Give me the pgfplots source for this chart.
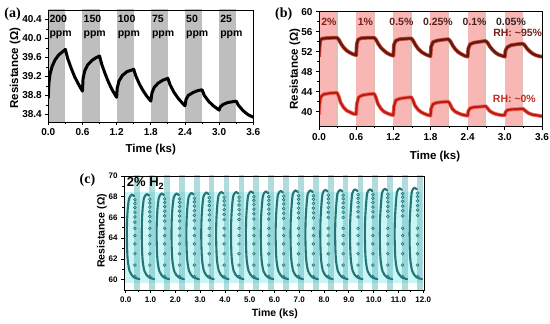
\documentclass[border=0pt]{standalone}
\usepackage{pgfplots}
\pgfplotsset{compat=1.18}
\usepackage{fontspec}
\setmainfont{Liberation Sans}
\newfontfamily\serifbf{Liberation Serif}
\definecolor{bandgray}{RGB}{190,190,190}
\definecolor{bandpink}{RGB}{248,182,180}
\definecolor{bandtan}{RGB}{222,192,182}
\definecolor{upcore}{RGB}{100,25,15}
\definecolor{uphalo}{RGB}{200,70,55}
\definecolor{lowcore}{RGB}{190,28,18}
\definecolor{lowhalo}{RGB}{245,110,100}
\definecolor{cyanbg}{RGB}{202,246,246}
\definecolor{tealband}{RGB}{100,185,190}
\definecolor{tealdark}{RGB}{38,115,120}
\definecolor{teallight}{RGB}{140,215,215}
\definecolor{rhup}{RGB}{115,35,25}
\definecolor{rhlow}{RGB}{195,45,35}
\newcommand\tickfont{\fontsize{10}{12}\selectfont\bfseries}
\newcommand\labfont{\fontsize{11.5}{13}\selectfont\bfseries}
\pgfplotsset{
  panel/.style={
    scale only axis, axis on top, tick align=outside, tick pos=left,
    anchor=south west, scaled ticks=false,
    axis line style={line width=0.9pt},
    every tick/.style={black, line width=0.8pt},
    major tick length=3pt, minor tick length=1.8pt,
    minor x tick num=1, minor y tick num=1,
    /pgf/number format/assume math mode=true,
    ticklabel style={font=\tickfont},
    label style={font=\labfont},
    xlabel={Time (ks)}, ylabel={Resistance (Ω)},
  },
  dense/.style={tealdark, line width=2.1pt, smooth, mark=none, line cap=round},
}
\begin{document}
\begin{tikzpicture}
\path[use as bounding box] (0,0) rectangle (550pt,324pt);
% ---------------- (a)
\begin{axis}[panel, at={(48.3pt,202pt)}, width=205pt, height=112pt,
  xmin=0, xmax=3.6, ymin=38.24, ymax=40.6,
  xtick={0,0.6,1.2,1.8,2.4,3.0,3.6}, ytick={38.4,38.8,39.2,39.6,40.0,40.4},
  xticklabel style={/pgf/number format/.cd, fixed, fixed zerofill, precision=1},
  yticklabel style={/pgf/number format/.cd, fixed, fixed zerofill, precision=1},
  xlabel style={at={(axis description cs:0.5,-0.25)}, anchor=center},
  ylabel style={at={(axis description cs:-0.162,0.48)}, anchor=center}]
\addplot[fill=bandgray, draw=none] coordinates {(0,38) (0.3,38) (0.3,41) (0,41)} -- cycle;
\addplot[fill=bandgray, draw=none] coordinates {(0.6,38) (0.9,38) (0.9,41) (0.6,41)} -- cycle;
\addplot[fill=bandgray, draw=none] coordinates {(1.2,38) (1.5,38) (1.5,41) (1.2,41)} -- cycle;
\addplot[fill=bandgray, draw=none] coordinates {(1.8,38) (2.1,38) (2.1,41) (1.8,41)} -- cycle;
\addplot[fill=bandgray, draw=none] coordinates {(2.4,38) (2.7,38) (2.7,41) (2.4,41)} -- cycle;
\addplot[fill=bandgray, draw=none] coordinates {(3.0,38) (3.3,38) (3.3,41) (3.0,41)} -- cycle;
\addplot[black, line width=3pt, mark=none, line join=round] coordinates {
(0.00,38.74)(0.01,39.05)(0.03,39.25)(0.07,39.42)(0.12,39.55)(0.18,39.65)(0.24,39.71)(0.30,39.77)
(0.34,39.58)(0.40,39.38)(0.46,39.20)(0.52,39.06)(0.58,38.93)(0.60,38.89)
(0.61,39.15)(0.64,39.32)(0.69,39.44)(0.76,39.53)(0.83,39.59)(0.90,39.63)
(0.94,39.45)(1.00,39.25)(1.06,39.07)(1.12,38.92)(1.20,38.76)
(1.21,38.95)(1.24,39.10)(1.30,39.22)(1.38,39.30)(1.50,39.35)
(1.54,39.20)(1.60,39.04)(1.66,38.91)(1.72,38.80)(1.80,38.68)
(1.82,38.85)(1.86,38.97)(1.93,39.06)(2.01,39.12)(2.10,39.16)
(2.14,39.02)(2.20,38.88)(2.28,38.74)(2.36,38.63)(2.40,38.58)
(2.42,38.72)(2.46,38.80)(2.54,38.86)(2.62,38.90)(2.70,38.92)
(2.74,38.80)(2.82,38.67)(2.90,38.58)(3.00,38.49)
(3.02,38.56)(3.07,38.61)(3.15,38.65)(3.30,38.68)
(3.34,38.59)(3.42,38.48)(3.50,38.40)(3.60,38.34)};
\begin{scope}[every node/.style={anchor=west, align=left, inner sep=1pt, font=\fontsize{10.5}{14}\selectfont\bfseries}]
\node at (axis cs:0.0,40.25) {200\\ppm};
\node at (axis cs:0.6,40.25) {150\\ppm};
\node at (axis cs:1.2,40.25) {100\\ppm};
\node at (axis cs:1.8,40.25) {75\\ppm};
\node at (axis cs:2.4,40.25) {50\\ppm};
\node at (axis cs:3.0,40.25) {25\\ppm};
\end{scope}
\end{axis}
% ---------------- (b)
\begin{axis}[panel, at={(319pt,197.3pt)}, width=223pt, height=115pt,
  xmin=0, xmax=3.6, ymin=37, ymax=60,
  xtick={0,0.6,1.2,1.8,2.4,3.0,3.6}, ytick={40,44,48,52,56,60},
  xticklabel style={/pgf/number format/.cd, fixed, fixed zerofill, precision=1},
  xlabel style={at={(axis description cs:0.52,-0.26)}, anchor=center},
  ylabel style={at={(axis description cs:-0.108,0.5)}, anchor=center}]
\addplot[fill=bandpink, draw=none] coordinates {(0,36) (0.27,36) (0.27,61) (0,61)} -- cycle;
\addplot[fill=bandpink, draw=none] coordinates {(0.6,36) (0.87,36) (0.87,61) (0.6,61)} -- cycle;
\addplot[fill=bandpink, draw=none] coordinates {(1.2,36) (1.47,36) (1.47,61) (1.2,61)} -- cycle;
\addplot[fill=bandpink, draw=none] coordinates {(1.8,36) (2.07,36) (2.07,61) (1.8,61)} -- cycle;
\addplot[fill=bandpink, draw=none] coordinates {(2.4,36) (2.67,36) (2.67,61) (2.4,61)} -- cycle;
\addplot[fill=bandpink, draw=none] coordinates {(3.0,36) (3.27,36) (3.27,61) (3.0,61)} -- cycle;
\addplot[fill=bandtan, draw=none] coordinates {(0.27,36) (0.3,36) (0.3,61) (0.27,61)} -- cycle;
\addplot[fill=bandtan, draw=none] coordinates {(0.87,36) (0.9,36) (0.9,61) (0.87,61)} -- cycle;
\addplot[fill=bandtan, draw=none] coordinates {(1.47,36) (1.5,36) (1.5,61) (1.47,61)} -- cycle;
\addplot[fill=bandtan, draw=none] coordinates {(2.07,36) (2.1,36) (2.1,61) (2.07,61)} -- cycle;
\addplot[fill=bandtan, draw=none] coordinates {(2.67,36) (2.7,36) (2.7,61) (2.67,61)} -- cycle;
\addplot[fill=bandtan, draw=none] coordinates {(3.27,36) (3.3,36) (3.3,61) (3.27,61)} -- cycle;
\addplot[uphalo, line width=3.8pt, mark=none, line join=round] coordinates {
(0.00,51.0)(0.01,53.0)(0.02,54.3)(0.05,54.6)(0.15,54.75)(0.29,54.8)
(0.32,54.4)(0.36,53.5)(0.40,52.8)(0.45,52.2)(0.50,51.8)(0.55,51.5)(0.60,51.3)
(0.61,53.5)(0.63,54.4)(0.68,54.7)(0.80,54.8)(0.89,54.8)
(0.92,54.4)(0.96,53.5)(1.00,52.8)(1.05,52.2)(1.10,51.7)(1.15,51.4)(1.20,51.2)
(1.21,53.4)(1.24,54.2)(1.30,54.5)(1.40,54.6)(1.49,54.65)
(1.52,54.2)(1.56,53.3)(1.60,52.6)(1.65,52.0)(1.70,51.6)(1.75,51.3)(1.80,51.1)
(1.81,53.0)(1.84,53.9)(1.90,54.2)(2.00,54.4)(2.09,54.5)
(2.12,54.1)(2.16,53.2)(2.20,52.5)(2.25,51.9)(2.30,51.5)(2.35,51.2)(2.40,51.0)
(2.41,52.6)(2.44,53.5)(2.50,53.8)(2.60,54.0)(2.69,54.15)
(2.72,53.8)(2.76,53.0)(2.80,52.4)(2.85,51.8)(2.90,51.4)(2.95,51.2)(3.00,51.0)
(3.01,52.2)(3.04,52.9)(3.10,53.3)(3.20,53.5)(3.29,53.6)
(3.32,53.3)(3.36,52.6)(3.40,52.1)(3.45,51.6)(3.50,51.3)(3.55,51.1)(3.60,51.0)};
\addplot[upcore, line width=2.2pt, mark=none, line join=round] coordinates {
(0.00,51.0)(0.01,53.0)(0.02,54.3)(0.05,54.6)(0.15,54.75)(0.29,54.8)
(0.32,54.4)(0.36,53.5)(0.40,52.8)(0.45,52.2)(0.50,51.8)(0.55,51.5)(0.60,51.3)
(0.61,53.5)(0.63,54.4)(0.68,54.7)(0.80,54.8)(0.89,54.8)
(0.92,54.4)(0.96,53.5)(1.00,52.8)(1.05,52.2)(1.10,51.7)(1.15,51.4)(1.20,51.2)
(1.21,53.4)(1.24,54.2)(1.30,54.5)(1.40,54.6)(1.49,54.65)
(1.52,54.2)(1.56,53.3)(1.60,52.6)(1.65,52.0)(1.70,51.6)(1.75,51.3)(1.80,51.1)
(1.81,53.0)(1.84,53.9)(1.90,54.2)(2.00,54.4)(2.09,54.5)
(2.12,54.1)(2.16,53.2)(2.20,52.5)(2.25,51.9)(2.30,51.5)(2.35,51.2)(2.40,51.0)
(2.41,52.6)(2.44,53.5)(2.50,53.8)(2.60,54.0)(2.69,54.15)
(2.72,53.8)(2.76,53.0)(2.80,52.4)(2.85,51.8)(2.90,51.4)(2.95,51.2)(3.00,51.0)
(3.01,52.2)(3.04,52.9)(3.10,53.3)(3.20,53.5)(3.29,53.6)
(3.32,53.3)(3.36,52.6)(3.40,52.1)(3.45,51.6)(3.50,51.3)(3.55,51.1)(3.60,51.0)};
\addplot[lowhalo, line width=3.8pt, mark=none, line join=round] coordinates {
(0.00,39.4)(0.01,41.5)(0.03,43.0)(0.08,43.5)(0.18,43.7)(0.29,43.8)
(0.32,43.0)(0.35,41.8)(0.40,40.8)(0.45,40.2)(0.50,39.9)(0.55,39.6)(0.60,39.5)
(0.61,41.5)(0.64,42.9)(0.70,43.3)(0.80,43.5)(0.89,43.6)
(0.92,42.8)(0.95,41.6)(1.00,40.6)(1.05,40.0)(1.10,39.7)(1.15,39.45)(1.20,39.3)
(1.21,41.0)(1.24,42.3)(1.30,42.6)(1.40,42.8)(1.49,42.9)
(1.52,42.2)(1.55,41.2)(1.60,40.4)(1.65,39.9)(1.70,39.6)(1.75,39.35)(1.80,39.2)
(1.81,40.6)(1.84,41.5)(1.90,41.8)(2.00,41.95)(2.09,42.0)
(2.12,41.4)(2.15,40.6)(2.20,40.0)(2.25,39.7)(2.30,39.45)(2.35,39.3)(2.40,39.2)
(2.41,40.1)(2.44,40.7)(2.50,40.9)(2.60,41.0)(2.69,41.1)
(2.72,40.7)(2.75,40.2)(2.80,39.8)(2.85,39.55)(2.90,39.4)(2.95,39.3)(3.00,39.3)
(3.01,39.9)(3.04,40.3)(3.10,40.45)(3.20,40.5)(3.29,40.6)
(3.32,40.3)(3.36,39.9)(3.40,39.6)(3.45,39.4)(3.50,39.3)(3.55,39.2)(3.60,39.1)};
\addplot[lowcore, line width=2.2pt, mark=none, line join=round] coordinates {
(0.00,39.4)(0.01,41.5)(0.03,43.0)(0.08,43.5)(0.18,43.7)(0.29,43.8)
(0.32,43.0)(0.35,41.8)(0.40,40.8)(0.45,40.2)(0.50,39.9)(0.55,39.6)(0.60,39.5)
(0.61,41.5)(0.64,42.9)(0.70,43.3)(0.80,43.5)(0.89,43.6)
(0.92,42.8)(0.95,41.6)(1.00,40.6)(1.05,40.0)(1.10,39.7)(1.15,39.45)(1.20,39.3)
(1.21,41.0)(1.24,42.3)(1.30,42.6)(1.40,42.8)(1.49,42.9)
(1.52,42.2)(1.55,41.2)(1.60,40.4)(1.65,39.9)(1.70,39.6)(1.75,39.35)(1.80,39.2)
(1.81,40.6)(1.84,41.5)(1.90,41.8)(2.00,41.95)(2.09,42.0)
(2.12,41.4)(2.15,40.6)(2.20,40.0)(2.25,39.7)(2.30,39.45)(2.35,39.3)(2.40,39.2)
(2.41,40.1)(2.44,40.7)(2.50,40.9)(2.60,41.0)(2.69,41.1)
(2.72,40.7)(2.75,40.2)(2.80,39.8)(2.85,39.55)(2.90,39.4)(2.95,39.3)(3.00,39.3)
(3.01,39.9)(3.04,40.3)(3.10,40.45)(3.20,40.5)(3.29,40.6)
(3.32,40.3)(3.36,39.9)(3.40,39.6)(3.45,39.4)(3.50,39.3)(3.55,39.2)(3.60,39.1)};
\begin{scope}[every node/.style={inner sep=1pt, font=\fontsize{10.5}{12}\selectfont\bfseries}]
\node[text={rgb,255:red,135;green,30;blue,25}] at (axis cs:0.16,58) {2\%};
\node[text={rgb,255:red,120;green,30;blue,25}] at (axis cs:0.75,58) {1\%};
\node[text={rgb,255:red,100;green,30;blue,28}] at (axis cs:1.33,58) {0.5\%};
\node[text={rgb,255:red,85;green,32;blue,30}] at (axis cs:1.92,58) {0.25\%};
\node[text={rgb,255:red,70;green,35;blue,33}] at (axis cs:2.51,58) {0.1\%};
\node[text={rgb,255:red,50;green,38;blue,36}] at (axis cs:3.10,58) {0.05\%};
\node[anchor=east, text=rhup] at (axis cs:3.62,55.7) {RH: \textasciitilde 95\%};
\node[anchor=east, text=rhlow] at (axis cs:3.52,42.5) {RH: \textasciitilde 0\%};
\end{scope}
\end{axis}
% ---------------- (c)
\begin{axis}[panel, at={(124pt,34pt)}, width=300pt, height=114pt,
  xmin=-0.07, xmax=12.03, ymin=59, ymax=70,
  xtick={0,1,2,3,4,5,6,7,8,9,10,11,12}, ytick={60,62,64,66,68,70},
  ticklabel style={font=\fontsize{8}{9}\selectfont\bfseries},
  label style={font=\fontsize{10.5}{12}\selectfont\bfseries},
  xticklabel style={/pgf/number format/.cd, fixed, fixed zerofill, precision=1},
  xlabel style={at={(axis description cs:0.503,-0.21)}, anchor=center},
  ylabel style={at={(axis description cs:-0.074,0.518)}, anchor=center}]
\addplot[fill=cyanbg, draw=none] coordinates {(-0.1,59.7) (11.95,59.7) (11.95,68.45) (-0.1,68.45)} -- cycle;
\addplot[fill=tealband, fill opacity=0.5, draw=none] coordinates {(0.35,58) (0.58,58) (0.58,71) (0.35,71)} -- cycle;
\addplot[fill=tealband, fill opacity=0.5, draw=none] coordinates {(0.95,58) (1.18,58) (1.18,71) (0.95,71)} -- cycle;
\addplot[fill=tealband, fill opacity=0.5, draw=none] coordinates {(1.55,58) (1.78,58) (1.78,71) (1.55,71)} -- cycle;
\addplot[fill=tealband, fill opacity=0.5, draw=none] coordinates {(2.15,58) (2.38,58) (2.38,71) (2.15,71)} -- cycle;
\addplot[fill=tealband, fill opacity=0.5, draw=none] coordinates {(2.75,58) (2.98,58) (2.98,71) (2.75,71)} -- cycle;
\addplot[fill=tealband, fill opacity=0.5, draw=none] coordinates {(3.35,58) (3.58,58) (3.58,71) (3.35,71)} -- cycle;
\addplot[fill=tealband, fill opacity=0.5, draw=none] coordinates {(3.95,58) (4.18,58) (4.18,71) (3.95,71)} -- cycle;
\addplot[fill=tealband, fill opacity=0.5, draw=none] coordinates {(4.55,58) (4.78,58) (4.78,71) (4.55,71)} -- cycle;
\addplot[fill=tealband, fill opacity=0.5, draw=none] coordinates {(5.15,58) (5.38,58) (5.38,71) (5.15,71)} -- cycle;
\addplot[fill=tealband, fill opacity=0.5, draw=none] coordinates {(5.75,58) (5.98,58) (5.98,71) (5.75,71)} -- cycle;
\addplot[fill=tealband, fill opacity=0.5, draw=none] coordinates {(6.35,58) (6.58,58) (6.58,71) (6.35,71)} -- cycle;
\addplot[fill=tealband, fill opacity=0.5, draw=none] coordinates {(6.95,58) (7.18,58) (7.18,71) (6.95,71)} -- cycle;
\addplot[fill=tealband, fill opacity=0.5, draw=none] coordinates {(7.55,58) (7.78,58) (7.78,71) (7.55,71)} -- cycle;
\addplot[fill=tealband, fill opacity=0.5, draw=none] coordinates {(8.15,58) (8.38,58) (8.38,71) (8.15,71)} -- cycle;
\addplot[fill=tealband, fill opacity=0.5, draw=none] coordinates {(8.75,58) (8.98,58) (8.98,71) (8.75,71)} -- cycle;
\addplot[fill=tealband, fill opacity=0.5, draw=none] coordinates {(9.35,58) (9.58,58) (9.58,71) (9.35,71)} -- cycle;
\addplot[fill=tealband, fill opacity=0.5, draw=none] coordinates {(9.95,58) (10.18,58) (10.18,71) (9.95,71)} -- cycle;
\addplot[fill=tealband, fill opacity=0.5, draw=none] coordinates {(10.55,58) (10.78,58) (10.78,71) (10.55,71)} -- cycle;
\addplot[fill=tealband, fill opacity=0.5, draw=none] coordinates {(11.15,58) (11.38,58) (11.38,71) (11.15,71)} -- cycle;
\addplot[fill=tealband, fill opacity=0.5, draw=none] coordinates {(11.75,58) (11.98,58) (11.98,71) (11.75,71)} -- cycle;
% dense arcs
\addplot[dense] coordinates {(0.55,60.05)(0.32,60.25)(0.16,60.8)(0.08,61.9)(0.05,63.5)(0.05,65.3)(0.08,66.8)(0.14,67.85)(0.25,68.20)(0.34,68.05)};
\addplot[dense] coordinates {(1.15,60.05)(0.92,60.25)(0.76,60.8)(0.68,61.9)(0.65,63.5)(0.65,65.3)(0.68,66.8)(0.74,67.90)(0.85,68.25)(0.94,68.10)};
\addplot[dense] coordinates {(1.75,60.05)(1.52,60.25)(1.36,60.8)(1.28,61.9)(1.25,63.5)(1.25,65.3)(1.28,66.8)(1.34,67.95)(1.45,68.30)(1.54,68.15)};
\addplot[dense] coordinates {(2.35,60.05)(2.12,60.25)(1.96,60.8)(1.88,61.9)(1.85,63.5)(1.85,65.3)(1.88,66.8)(1.94,67.95)(2.05,68.30)(2.14,68.15)};
\addplot[dense] coordinates {(2.95,60.05)(2.72,60.25)(2.56,60.8)(2.48,61.9)(2.45,63.5)(2.45,65.3)(2.48,66.8)(2.54,68.00)(2.65,68.35)(2.74,68.20)};
\addplot[dense] coordinates {(3.55,60.05)(3.32,60.25)(3.16,60.8)(3.08,61.9)(3.05,63.5)(3.05,65.3)(3.08,66.8)(3.14,68.05)(3.25,68.40)(3.34,68.25)};
\addplot[dense] coordinates {(4.15,60.05)(3.92,60.25)(3.76,60.8)(3.68,61.9)(3.65,63.5)(3.65,65.3)(3.68,66.8)(3.74,68.10)(3.85,68.45)(3.94,68.30)};
\addplot[dense] coordinates {(4.75,60.05)(4.52,60.25)(4.36,60.8)(4.28,61.9)(4.25,63.5)(4.25,65.3)(4.28,66.8)(4.34,68.10)(4.45,68.45)(4.54,68.30)};
\addplot[dense] coordinates {(5.35,60.05)(5.12,60.25)(4.96,60.8)(4.88,61.9)(4.85,63.5)(4.85,65.3)(4.88,66.8)(4.94,68.15)(5.05,68.50)(5.14,68.35)};
\addplot[dense] coordinates {(5.95,60.05)(5.72,60.25)(5.56,60.8)(5.48,61.9)(5.45,63.5)(5.45,65.3)(5.48,66.8)(5.54,68.15)(5.65,68.50)(5.74,68.35)};
\addplot[dense] coordinates {(6.55,60.05)(6.32,60.25)(6.16,60.8)(6.08,61.9)(6.05,63.5)(6.05,65.3)(6.08,66.8)(6.14,68.20)(6.25,68.55)(6.34,68.40)};
\addplot[dense] coordinates {(7.15,60.05)(6.92,60.25)(6.76,60.8)(6.68,61.9)(6.65,63.5)(6.65,65.3)(6.68,66.8)(6.74,68.25)(6.85,68.60)(6.94,68.45)};
\addplot[dense] coordinates {(7.75,60.05)(7.52,60.25)(7.36,60.8)(7.28,61.9)(7.25,63.5)(7.25,65.3)(7.28,66.8)(7.34,68.25)(7.45,68.60)(7.54,68.45)};
\addplot[dense] coordinates {(8.35,60.05)(8.12,60.25)(7.96,60.8)(7.88,61.9)(7.85,63.5)(7.85,65.3)(7.88,66.8)(7.94,68.30)(8.05,68.65)(8.14,68.50)};
\addplot[dense] coordinates {(8.95,60.05)(8.72,60.25)(8.56,60.8)(8.48,61.9)(8.45,63.5)(8.45,65.3)(8.48,66.8)(8.54,68.30)(8.65,68.65)(8.74,68.50)};
\addplot[dense] coordinates {(9.55,60.05)(9.32,60.25)(9.16,60.8)(9.08,61.9)(9.05,63.5)(9.05,65.3)(9.08,66.8)(9.14,68.35)(9.25,68.70)(9.34,68.55)};
\addplot[dense] coordinates {(10.15,60.05)(9.92,60.25)(9.76,60.8)(9.68,61.9)(9.65,63.5)(9.65,65.3)(9.68,66.8)(9.74,68.35)(9.85,68.70)(9.94,68.55)};
\addplot[dense] coordinates {(10.75,60.05)(10.52,60.25)(10.36,60.8)(10.28,61.9)(10.25,63.5)(10.25,65.3)(10.28,66.8)(10.34,68.40)(10.45,68.75)(10.54,68.60)};
\addplot[dense] coordinates {(11.35,60.05)(11.12,60.25)(10.96,60.8)(10.88,61.9)(10.85,63.5)(10.85,65.3)(10.88,66.8)(10.94,68.45)(11.05,68.80)(11.14,68.65)};
\addplot[dense] coordinates {(11.95,60.05)(11.72,60.25)(11.56,60.8)(11.48,61.9)(11.45,63.5)(11.45,65.3)(11.48,66.8)(11.54,68.50)(11.65,68.85)(11.74,68.70)};
% sparse points
\addplot[only marks, mark=o, mark size=1.4pt, mark options={draw=tealdark, line width=0.6pt}] coordinates {
(0.37,67.70)(0.37,67.35)(0.37,66.95)(0.37,66.50)(0.37,66.05)(0.37,65.55)(0.37,64.95)(0.37,64.25)(0.37,63.45)(0.37,62.50)(0.37,61.40)(0.37,60.30)
(0.97,67.75)(0.97,67.40)(0.97,67.00)(0.97,66.55)(0.97,66.10)(0.97,65.60)(0.97,64.95)(0.97,64.25)(0.97,63.45)(0.97,62.50)(0.97,61.40)(0.97,60.30)
(1.57,67.80)(1.57,67.45)(1.57,67.05)(1.57,66.60)(1.57,66.15)(1.57,65.65)(1.57,64.95)(1.57,64.25)(1.57,63.45)(1.57,62.50)(1.57,61.40)(1.57,60.30)
(2.17,67.80)(2.17,67.45)(2.17,67.05)(2.17,66.60)(2.17,66.15)(2.17,65.65)(2.17,64.95)(2.17,64.25)(2.17,63.45)(2.17,62.50)(2.17,61.40)(2.17,60.30)
(2.77,67.85)(2.77,67.50)(2.77,67.10)(2.77,66.65)(2.77,66.20)(2.77,65.70)(2.77,64.95)(2.77,64.25)(2.77,63.45)(2.77,62.50)(2.77,61.40)(2.77,60.30)
(3.37,67.90)(3.37,67.55)(3.37,67.15)(3.37,66.70)(3.37,66.25)(3.37,65.75)(3.37,64.95)(3.37,64.25)(3.37,63.45)(3.37,62.50)(3.37,61.40)(3.37,60.30)
(3.97,67.95)(3.97,67.60)(3.97,67.20)(3.97,66.75)(3.97,66.30)(3.97,65.80)(3.97,64.95)(3.97,64.25)(3.97,63.45)(3.97,62.50)(3.97,61.40)(3.97,60.30)
(4.57,67.95)(4.57,67.60)(4.57,67.20)(4.57,66.75)(4.57,66.30)(4.57,65.80)(4.57,64.95)(4.57,64.25)(4.57,63.45)(4.57,62.50)(4.57,61.40)(4.57,60.30)
(5.17,68.00)(5.17,67.65)(5.17,67.25)(5.17,66.80)(5.17,66.35)(5.17,65.85)(5.17,64.95)(5.17,64.25)(5.17,63.45)(5.17,62.50)(5.17,61.40)(5.17,60.30)
(5.77,68.00)(5.77,67.65)(5.77,67.25)(5.77,66.80)(5.77,66.35)(5.77,65.85)(5.77,64.95)(5.77,64.25)(5.77,63.45)(5.77,62.50)(5.77,61.40)(5.77,60.30)
(6.37,68.05)(6.37,67.70)(6.37,67.30)(6.37,66.85)(6.37,66.40)(6.37,65.90)(6.37,64.95)(6.37,64.25)(6.37,63.45)(6.37,62.50)(6.37,61.40)(6.37,60.30)
(6.97,68.10)(6.97,67.75)(6.97,67.35)(6.97,66.90)(6.97,66.45)(6.97,65.95)(6.97,64.95)(6.97,64.25)(6.97,63.45)(6.97,62.50)(6.97,61.40)(6.97,60.30)
(7.57,68.10)(7.57,67.75)(7.57,67.35)(7.57,66.90)(7.57,66.45)(7.57,65.95)(7.57,64.95)(7.57,64.25)(7.57,63.45)(7.57,62.50)(7.57,61.40)(7.57,60.30)
(8.17,68.15)(8.17,67.80)(8.17,67.40)(8.17,66.95)(8.17,66.50)(8.17,66.00)(8.17,64.95)(8.17,64.25)(8.17,63.45)(8.17,62.50)(8.17,61.40)(8.17,60.30)
(8.77,68.15)(8.77,67.80)(8.77,67.40)(8.77,66.95)(8.77,66.50)(8.77,66.00)(8.77,64.95)(8.77,64.25)(8.77,63.45)(8.77,62.50)(8.77,61.40)(8.77,60.30)
(9.37,68.20)(9.37,67.85)(9.37,67.45)(9.37,67.00)(9.37,66.55)(9.37,66.05)(9.37,64.95)(9.37,64.25)(9.37,63.45)(9.37,62.50)(9.37,61.40)(9.37,60.30)
(9.97,68.20)(9.97,67.85)(9.97,67.45)(9.97,67.00)(9.97,66.55)(9.97,66.05)(9.97,64.95)(9.97,64.25)(9.97,63.45)(9.97,62.50)(9.97,61.40)(9.97,60.30)
(10.57,68.25)(10.57,67.90)(10.57,67.50)(10.57,67.05)(10.57,66.60)(10.57,66.10)(10.57,64.95)(10.57,64.25)(10.57,63.45)(10.57,62.50)(10.57,61.40)(10.57,60.30)
(11.17,68.30)(11.17,67.95)(11.17,67.55)(11.17,67.10)(11.17,66.65)(11.17,66.15)(11.17,64.95)(11.17,64.25)(11.17,63.45)(11.17,62.50)(11.17,61.40)(11.17,60.30)
(11.77,68.35)(11.77,68.00)(11.77,67.60)(11.77,67.15)(11.77,66.70)(11.77,66.20)(11.77,64.95)(11.77,64.25)(11.77,63.45)(11.77,62.50)(11.77,61.40)(11.77,60.30)};
\node[anchor=west, inner sep=1pt, font=\fontsize{13}{15}\selectfont\bfseries] at (axis cs:0.0,69.27) {2\% H\textsubscript{2}};
\end{axis}
\node[font=\serifbf\bfseries\fontsize{14}{16}\selectfont] at (12.5pt,310pt) {(a)};
\node[font=\serifbf\bfseries\fontsize{14}{16}\selectfont] at (283.7pt,310pt) {(b)};
\node[font=\serifbf\bfseries\fontsize{14}{16}\selectfont] at (87.5pt,144pt) {(c)};
\end{tikzpicture}
\end{document}
